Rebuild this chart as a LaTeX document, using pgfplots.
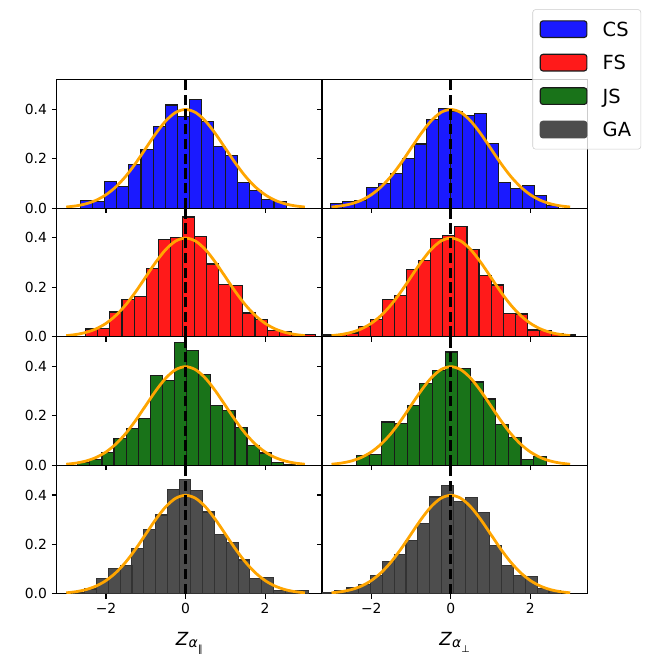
\documentclass[border=0pt]{standalone}
\usepackage{fontspec}
\setmainfont{DejaVu Sans}
\usepackage{pgfplots}
\usepackage{pgfplotstable}
\pgfplotsset{compat=1.18}
\definecolor{csblue}{RGB}{26,26,255}
\definecolor{fsred}{RGB}{255,26,26}
\definecolor{jsgreen}{RGB}{25,115,25}
\definecolor{gagray}{RGB}{77,77,77}
\definecolor{edge}{RGB}{26,26,26}
\definecolor{pdforange}{RGB}{255,165,0}

\pgfplotstableread{
x y
-3 0.0044
-2.75 0.0091
-2.5 0.0175
-2.25 0.0317
-2 0.0540
-1.75 0.0863
-1.5 0.1295
-1.25 0.1826
-1 0.2420
-0.75 0.3011
-0.5 0.3521
-0.25 0.3867
0 0.3989
0.25 0.3867
0.5 0.3521
0.75 0.3011
1 0.2420
1.25 0.1826
1.5 0.1295
1.75 0.0863
2 0.0540
2.25 0.0317
2.5 0.0175
2.75 0.0091
3 0.0044
}\pdftable

% CS left
\pgfplotstableread{
x y
-2.488 0.030
-2.184 0.026
-1.880 0.106
-1.576 0.089
-1.272 0.178
-0.968 0.238
-0.664 0.331
-0.360 0.417
-0.056 0.372
0.248 0.438
0.552 0.351
0.856 0.248
1.160 0.214
1.464 0.104
1.768 0.070
2.072 0.036
2.376 0.028
}\csL
% CS right
\pgfplotstableread{
x y
-2.869 0.018
-2.567 0.028
-2.265 0.030
-1.963 0.082
-1.661 0.100
-1.359 0.140
-1.057 0.200
-0.755 0.259
-0.453 0.360
-0.151 0.403
0.151 0.392
0.453 0.373
0.755 0.381
1.057 0.261
1.359 0.102
1.661 0.078
1.963 0.090
2.265 0.051
2.567 0.012
}\csR
% FS left
\pgfplotstableread{
x y
-2.358 0.031
-2.054 0.032
-1.750 0.100
-1.446 0.150
-1.142 0.162
-0.838 0.276
-0.534 0.393
-0.230 0.400
0.074 0.484
0.378 0.405
0.682 0.294
0.986 0.210
1.290 0.207
1.594 0.096
1.898 0.069
2.202 0.026
2.506 0.020
2.810 0.008
3.114 0.008
}\fsL
% FS right
\pgfplotstableread{
x y
-3.0785 0.007
-2.7755 0.008
-2.4725 0.015
-2.1695 0.040
-1.8665 0.070
-1.5635 0.151
-1.2605 0.168
-0.9575 0.271
-0.6545 0.307
-0.3515 0.397
-0.0485 0.410
0.2545 0.447
0.5575 0.352
0.8605 0.249
1.1635 0.209
1.4665 0.094
1.7695 0.092
2.0725 0.027
2.3755 0.026
2.6785 0.013
2.9815 0.007
}\fsR
% JS left
\pgfplotstableread{
x y
-2.558 0.011
-2.254 0.024
-1.950 0.051
-1.646 0.107
-1.342 0.149
-1.038 0.189
-0.734 0.362
-0.430 0.342
-0.126 0.495
0.178 0.466
0.482 0.366
0.786 0.243
1.090 0.221
1.394 0.152
1.698 0.081
2.002 0.050
2.306 0.011
2.610 0.005
}\jsL
% JS right
\pgfplotstableread{
x y
-2.211 0.038
-1.893 0.042
-1.575 0.175
-1.257 0.168
-0.939 0.242
-0.621 0.330
-0.303 0.385
0.015 0.458
0.333 0.390
0.651 0.337
0.969 0.268
1.287 0.165
1.605 0.111
1.923 0.024
2.241 0.034
}\jsR
% GA left
\pgfplotstableread{
x y
-2.682 0.007
-2.386 0.020
-2.089 0.063
-1.793 0.104
-1.496 0.116
-1.200 0.185
-0.903 0.259
-0.607 0.319
-0.310 0.423
-0.014 0.461
0.283 0.419
0.579 0.331
0.876 0.242
1.172 0.209
1.469 0.137
1.765 0.063
2.062 0.066
2.358 0.013
2.655 0.013
2.951 0.013
}\gaL
% GA right
\pgfplotstableread{
x y
-3.075 0.007
-2.776 0.015
-2.476 0.024
-2.176 0.038
-1.877 0.076
-1.577 0.132
-1.277 0.161
-0.978 0.216
-0.678 0.284
-0.378 0.392
-0.079 0.438
0.221 0.374
0.521 0.389
0.820 0.328
1.120 0.195
1.420 0.114
1.719 0.076
2.019 0.072
2.319 0.022
2.618 0.015
}\gaR

\pgfplotsset{
  panel/.style={scale only axis, width=191pt, height=92.59pt, anchor=south west,
    xmin=-3.24, xmax=3.43, ymin=0, ymax=0.52,
    axis line style={line width=0.8pt},
    tick align=outside, tick pos=left, major tick length=3.5pt,
    every tick/.style={black, line width=0.8pt},
    xtick={-2,0,2}, xticklabels={−2,0,2},
    ytick={0,0.2,0.4}, yticklabels={0.0,0.2,0.4},
    tick label style={font=\fontsize{10}{12}\selectfont}},
  inner/.style={xticklabels={}},
  rcol/.style={yticklabels={}},
  zlab/.style={xlabel style={at={(axis description cs:0.5,0)}, anchor=base, yshift=-36.8pt, font=\fontsize{13}{15}\selectfont}},
}

\newcommand{\histpanel}[4]{%
  \addplot[forget plot, ybar, bar shift=0pt, bar width=#2, fill=#3, draw=#4, line width=0.8pt] table[x=x,y=y]{#1};
  \addplot[forget plot, pdforange, line width=2pt, smooth] table[x=x,y=y]{\pdftable};
  \addplot[forget plot, black, line width=2pt, dash pattern=on 7.4pt off 3.2pt] coordinates {(0,0) (0,0.52)};
}

\begin{document}
\begin{tikzpicture}
\useasboundingbox (0pt,0pt) rectangle (468pt,-470.88pt);
% row 1
\begin{axis}[panel, inner, at={(40.82pt,-149.83pt)}]
\histpanel{\csL}{0.304}{csblue}{edge}
\end{axis}
\begin{axis}[panel, inner, rcol, at={(231.82pt,-149.83pt)},
  legend style={at={(1.203,1.5459)}, anchor=north east, draw=black!20, rounded corners=2pt,
    fill=white, fill opacity=0.8, text opacity=1, draw opacity=1,
    font=\fontsize{14}{16}\selectfont, row sep=9.9pt, inner xsep=5pt, inner ysep=7pt,
    nodes={text height=10.2pt, text depth=0pt, inner sep=2pt}},
  legend cell align=left,
  legend image code/.code={\path[draw=none, fill=none] (0pt,0pt) -- (43pt,0pt);\draw[#1, fill opacity=1] (0pt,-6pt) rectangle (33.6pt,6pt);}]
\histpanel{\csR}{0.302}{csblue}{edge}
\addlegendimage{fill=csblue, draw=edge, line width=0.8pt}
\addlegendentry{CS}
\addlegendimage{fill=fsred, draw=edge, line width=0.8pt}
\addlegendentry{FS}
\addlegendimage{fill=jsgreen, draw=edge, line width=0.8pt}
\addlegendentry{JS}
\addlegendimage{fill=gagray, draw=gagray, line width=0.8pt}
\addlegendentry{GA}
\end{axis}
% row 2
\begin{axis}[panel, inner, at={(40.82pt,-242.42pt)}]
\histpanel{\fsL}{0.304}{fsred}{edge}
\end{axis}
\begin{axis}[panel, inner, rcol, at={(231.82pt,-242.42pt)}]
\histpanel{\fsR}{0.303}{fsred}{edge}
\end{axis}
% row 3
\begin{axis}[panel, inner, at={(40.82pt,-335.02pt)}]
\histpanel{\jsL}{0.304}{jsgreen}{edge}
\end{axis}
\begin{axis}[panel, inner, rcol, at={(231.82pt,-335.02pt)}]
\histpanel{\jsR}{0.318}{jsgreen}{edge}
\end{axis}
% row 4
\begin{axis}[panel, zlab, at={(40.82pt,-427.61pt)},
  xlabel={\textit{Z}\raisebox{-0.15em}{\fontsize{10}{11}\selectfont\textit{α}\raisebox{-0.35em}{\fontsize{7}{8}\selectfont ∥}}}]
\histpanel{\gaL}{0.2965}{gagray}{black!80}
\end{axis}
\begin{axis}[panel, rcol, zlab, at={(231.82pt,-427.61pt)},
  xlabel={\textit{Z}\raisebox{-0.15em}{\fontsize{10}{11}\selectfont\textit{α}\raisebox{-0.35em}{\fontsize{7}{8}\selectfont ⊥}}}]
\histpanel{\gaR}{0.2997}{gagray}{black!80}
\end{axis}
\end{tikzpicture}
\end{document}
